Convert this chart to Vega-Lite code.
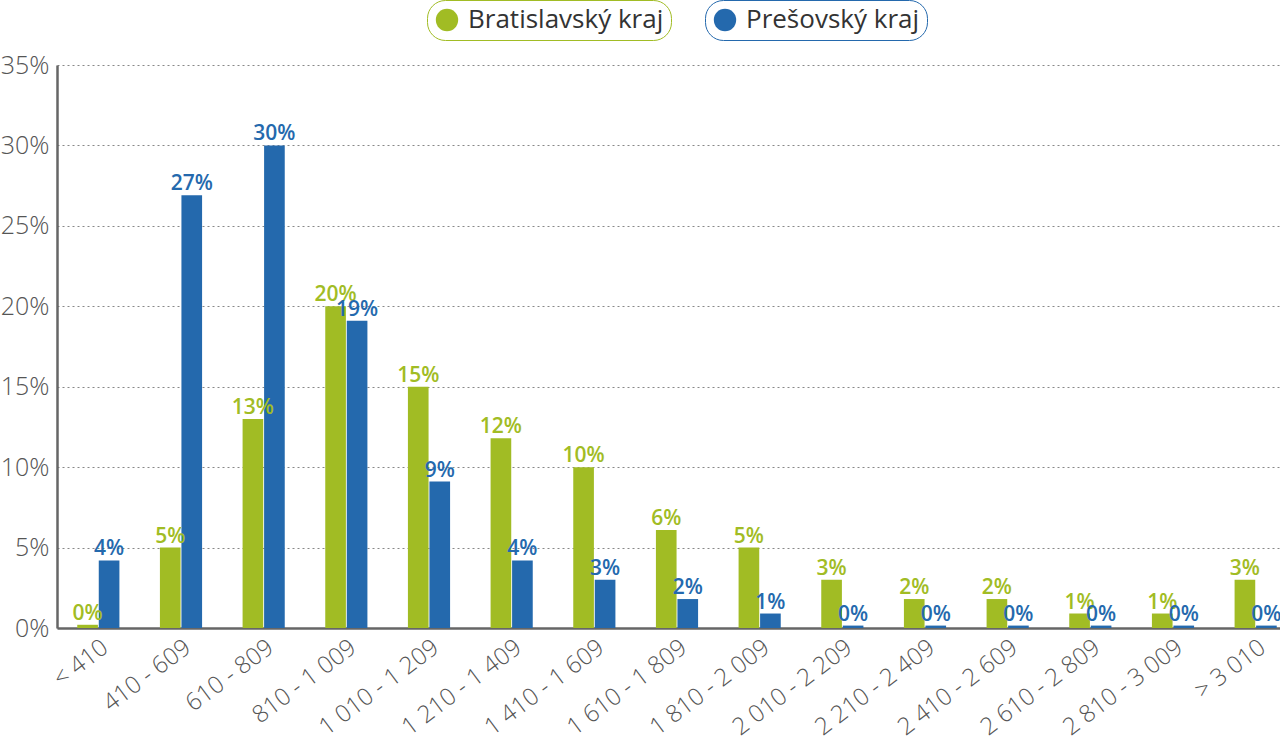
{
  "$schema": "https://vega.github.io/schema/vega-lite/v6.json",
  "width": 1240,
  "height": 563,
  "autosize": "none",
  "padding": {"left": 57, "top": 65, "right": 0, "bottom": 119},
  "config": {
    "font": "Open Sans",
    "view": {"stroke": null},
    "legend": {"layout": {"top": {"anchor": "middle", "direction": "horizontal", "margin": 34}}}
  },
  "data": {
    "values": [
      {"band": "< 410", "series": "Bratislavský kraj", "value": 0.002},
      {"band": "< 410", "series": "Prešovský kraj", "value": 0.042},
      {"band": "410 - 609", "series": "Bratislavský kraj", "value": 0.05},
      {"band": "410 - 609", "series": "Prešovský kraj", "value": 0.269},
      {"band": "610 - 809", "series": "Bratislavský kraj", "value": 0.13},
      {"band": "610 - 809", "series": "Prešovský kraj", "value": 0.30},
      {"band": "810 - 1 009", "series": "Bratislavský kraj", "value": 0.20},
      {"band": "810 - 1 009", "series": "Prešovský kraj", "value": 0.191},
      {"band": "1 010 - 1 209", "series": "Bratislavský kraj", "value": 0.15},
      {"band": "1 010 - 1 209", "series": "Prešovský kraj", "value": 0.091},
      {"band": "1 210 - 1 409", "series": "Bratislavský kraj", "value": 0.118},
      {"band": "1 210 - 1 409", "series": "Prešovský kraj", "value": 0.042},
      {"band": "1 410 - 1 609", "series": "Bratislavský kraj", "value": 0.10},
      {"band": "1 410 - 1 609", "series": "Prešovský kraj", "value": 0.03},
      {"band": "1 610 - 1 809", "series": "Bratislavský kraj", "value": 0.061},
      {"band": "1 610 - 1 809", "series": "Prešovský kraj", "value": 0.018},
      {"band": "1 810 - 2 009", "series": "Bratislavský kraj", "value": 0.05},
      {"band": "1 810 - 2 009", "series": "Prešovský kraj", "value": 0.009},
      {"band": "2 010 - 2 209", "series": "Bratislavský kraj", "value": 0.03},
      {"band": "2 010 - 2 209", "series": "Prešovský kraj", "value": 0.0015},
      {"band": "2 210 - 2 409", "series": "Bratislavský kraj", "value": 0.018},
      {"band": "2 210 - 2 409", "series": "Prešovský kraj", "value": 0.0015},
      {"band": "2 410 - 2 609", "series": "Bratislavský kraj", "value": 0.018},
      {"band": "2 410 - 2 609", "series": "Prešovský kraj", "value": 0.0015},
      {"band": "2 610 - 2 809", "series": "Bratislavský kraj", "value": 0.009},
      {"band": "2 610 - 2 809", "series": "Prešovský kraj", "value": 0.0015},
      {"band": "2 810 - 3 009", "series": "Bratislavský kraj", "value": 0.009},
      {"band": "2 810 - 3 009", "series": "Prešovský kraj", "value": 0.0015},
      {"band": "> 3 010", "series": "Bratislavský kraj", "value": 0.03},
      {"band": "> 3 010", "series": "Prešovský kraj", "value": 0.0015}
    ]
  },
  "encoding": {
    "x": {
      "field": "band",
      "type": "nominal",
      "sort": null,
      "scale": {"paddingInner": 0.49, "paddingOuter": 0.245},
      "axis": {
        "title": null,
        "labelAngle": -37,
        "labelFontSize": 24,
        "labelFontWeight": 300,
        "labelColor": "#555555",
        "ticks": false,
        "domainColor": "#666666",
        "domainWidth": 2.5,
        "labelPadding": 7,
        "labelLimit": 300
      }
    },
    "xOffset": {
      "field": "series",
      "type": "nominal",
      "scale": {"domain": ["Bratislavský kraj", "Prešovský kraj"], "paddingInner": 0.04}
    },
    "y": {
      "field": "value",
      "type": "quantitative",
      "scale": {"domain": [0, 0.35]},
      "axis": {
        "title": null,
        "format": ".0%",
        "values": [0, 0.05, 0.1, 0.15, 0.2, 0.25, 0.3, 0.35],
        "labelFontSize": 25,
        "labelFontWeight": 300,
        "labelColor": "#555555",
        "grid": true,
        "gridDash": [2, 3],
        "gridColor": "#888888",
        "gridWidth": 1,
        "domainColor": "#666666",
        "domainWidth": 2.5,
        "ticks": false,
        "labelPadding": 8
      }
    }
  },
  "layer": [
    {
      "transform": [{"filter": "datum.series === 'Bratislavský kraj'"}],
      "mark": {"type": "bar"},
      "encoding": {
        "fill": {
          "field": "series",
          "type": "nominal",
          "scale": {"domain": ["Bratislavský kraj"], "range": ["#a1bc24"]},
          "legend": {
            "orient": "top",
            "title": null,
            "symbolType": "circle",
            "symbolSize": 500,
            "symbolStrokeWidth": 0,
            "labelFontSize": 26,
            "labelLimit": 400,
            "labelColor": "#333333",
            "labelFont": "Open Sans",
            "labelOffset": 8,
            "strokeColor": "#a1bc24",
            "cornerRadius": 18,
            "padding": 7,
            "offset": 25,
            "fillColor": "white"
          }
        }
      }
    },
    {
      "transform": [{"filter": "datum.series === 'Prešovský kraj'"}],
      "mark": {"type": "bar"},
      "encoding": {
        "color": {
          "field": "series",
          "type": "nominal",
          "scale": {"domain": ["Prešovský kraj"], "range": ["#2469ad"]},
          "legend": {
            "orient": "top",
            "title": null,
            "symbolType": "circle",
            "symbolSize": 500,
            "symbolStrokeWidth": 0,
            "labelFontSize": 26,
            "labelLimit": 400,
            "labelColor": "#333333",
            "labelFont": "Open Sans",
            "labelOffset": 8,
            "strokeColor": "#2469ad",
            "cornerRadius": 18,
            "padding": 7,
            "offset": 25,
            "fillColor": "white"
          }
        }
      }
    },
    {
      "transform": [{"filter": "datum.series === 'Bratislavský kraj'"}],
      "mark": {"type": "text", "baseline": "bottom", "dy": -1, "fontSize": 21, "fontWeight": 600, "color": "#a1bc24"},
      "encoding": {"text": {"field": "value", "type": "quantitative", "format": ".0%"}}
    },
    {
      "transform": [{"filter": "datum.series === 'Prešovský kraj'"}],
      "mark": {"type": "text", "baseline": "bottom", "dy": -1, "fontSize": 21, "fontWeight": 600, "color": "#2469ad"},
      "encoding": {"text": {"field": "value", "type": "quantitative", "format": ".0%"}}
    }
  ]
}
